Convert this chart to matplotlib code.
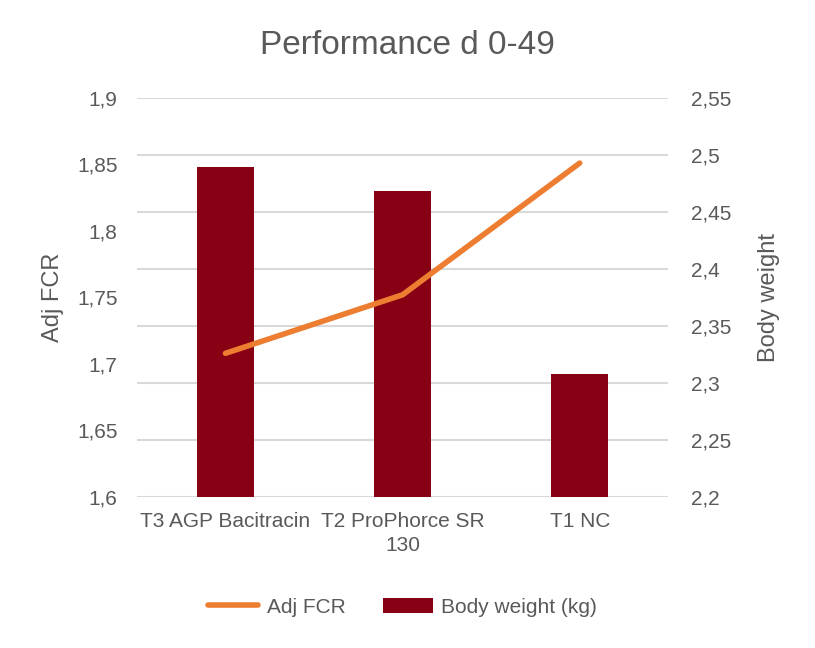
import numpy as np
import matplotlib.pyplot as plt

plt.rcParams['font.family'] = ['Liberation Sans', 'DejaVu Sans']

# data (layout follows the reference: FCR axis on the left, body weight on the right)
categories = ['T3 AGP Bacitracin', 'T2 ProPhorce SR\n130', 'T1 NC']
body_weight = [2.489, 2.468, 2.308]
adj_fcr = [1.708, 1.752, 1.851]

fcr_ticks = [1.6, 1.65, 1.7, 1.75, 1.8, 1.85, 1.9]
bw_ticks = [2.2, 2.25, 2.3, 2.35, 2.4, 2.45, 2.5, 2.55]

bar_color = '#870014'
line_color = '#ED7D31'
text_color = '#595959'
grid_color = '#D9D9D9'

def comma(v):
    s = f"{v:.2f}".rstrip('0').rstrip('.')
    return s.replace('.', ',')

fig = plt.figure(figsize=(8.15, 6.48), dpi=100)
ax = fig.add_axes([0.168, 0.233, 0.652, 0.616])
ax2 = ax.twinx()

x = np.arange(len(categories))

# gridlines follow the body weight ticks
for t in bw_ticks:
    ax2.axhline(t, color=grid_color, lw=1.5, zorder=0)

# bars on the right (body weight) axis
ax2.bar(x, body_weight, width=0.32, color=bar_color, zorder=2, label='Body weight (kg)')
ax2.set_ylim(2.2, 2.55)
ax2.set_yticks(bw_ticks)
ax2.set_yticklabels([comma(v) for v in bw_ticks])

# line on the left (FCR) axis, drawn above the bars
ax.set_zorder(ax2.get_zorder() + 1)
ax.patch.set_visible(False)
ax.plot(x, adj_fcr, color=line_color, lw=4, solid_capstyle='round', zorder=3, label='Adj FCR')
ax.set_ylim(1.6, 1.9)
ax.set_yticks(fcr_ticks)
ax.set_yticklabels([comma(v) for v in fcr_ticks])

ax.set_xlim(-0.5, len(categories) - 0.5)
ax.set_xticks(x)
ax.set_xticklabels(categories, fontsize=15, color=text_color, linespacing=1.3)

for a in (ax, ax2):
    for s in a.spines.values():
        s.set_visible(False)
    a.tick_params(length=0, labelsize=15, labelcolor=text_color)
ax.tick_params(axis='y', pad=14)
ax2.tick_params(axis='y', pad=16)
ax.tick_params(axis='x', pad=11)

ax.set_ylabel('Adj FCR', fontsize=17, color=text_color)
ax2.set_ylabel('Body weight', fontsize=17, color=text_color, rotation=90)
ax.yaxis.set_label_coords(-0.138, 0.5)
ax2.yaxis.set_label_coords(1.168, 0.5)

fig.suptitle('Performance d 0-49', fontsize=24, color=text_color, y=0.93, va='center')

h1, l1 = ax.get_legend_handles_labels()
h2, l2 = ax2.get_legend_handles_labels()
fig.legend(h1 + h2, l1 + l2, loc='center', bbox_to_anchor=(0.494, 0.063), ncol=2,
           frameon=False, fontsize=15, labelcolor=text_color, handlelength=2.4,
           handletextpad=0.4, columnspacing=1.8)

fig.savefig('out.png', dpi=100)
